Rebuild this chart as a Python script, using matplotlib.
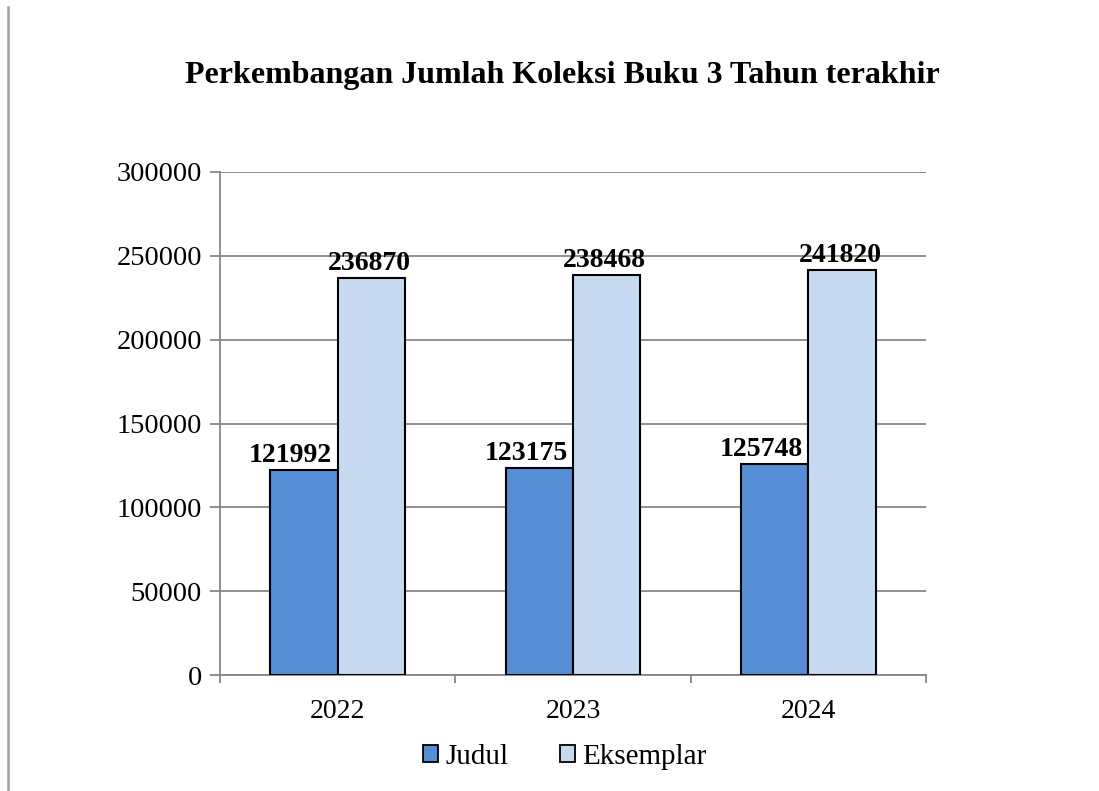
import numpy as np
import matplotlib
matplotlib.use("Agg")
import matplotlib.pyplot as plt
from matplotlib.lines import Line2D

# Data
years = ["2022", "2023", "2024"]
judul = [121992, 123175, 125748]
eksemplar = [236870, 238468, 241820]
series_names = ["Judul", "Eksemplar"]

plt.rcParams['font.family'] = ['Liberation Serif', 'DejaVu Serif']

c_judul = "#558ED5"
c_eks = "#C6D9F1"
grid_c = "#878787"

fig = plt.figure(figsize=(10.99, 7.91), dpi=100)
ax = fig.add_axes([0.2002, 0.1466, 0.6424, 0.636])

x = np.arange(len(years))
w = 1 / 3.5

b1 = ax.bar(x - w / 2, judul, w, color=c_judul, edgecolor="black", linewidth=1.5, zorder=3)
b2 = ax.bar(x + w / 2, eksemplar, w, color=c_eks, edgecolor="black", linewidth=1.5, zorder=3)

# data labels (excel puts the Judul ones a bit to the left)
for bars, vals, dx in ((b1, judul, -13.5), (b2, eksemplar, -2)):
    for r, v in zip(bars, vals):
        ax.annotate(str(v), (r.get_x() + r.get_width() / 2, v), xytext=(dx, 2),
                    textcoords="offset pixels", ha="center", va="bottom",
                    fontsize=20, fontweight="bold", zorder=4)

ax.set_xlim(-0.5, len(years) - 0.5)
ax.set_ylim(0, 300000)
ax.set_yticks(np.arange(0, 300001, 50000))
ax.yaxis.grid(True, color=grid_c, linewidth=1.3, zorder=0)

ax.set_xticks(x)
ax.set_xticklabels(years)
ax.set_xticks(np.arange(-0.5, len(years), 1), minor=True)
ax.tick_params(axis="x", which="major", length=0, pad=17, labelsize=20)
ax.tick_params(axis="x", which="minor", length=6, width=1.3, color=grid_c, direction="out")
ax.tick_params(axis="y", length=7, width=1.3, color=grid_c, pad=6, labelsize=20.5)

for s in ("top", "right"):
    ax.spines[s].set_visible(False)
for s in ("left", "bottom"):
    ax.spines[s].set_color(grid_c)
    ax.spines[s].set_linewidth(1.3)

fig.text(0.512, 0.905, "Perkembangan Jumlah Koleksi Buku 3 Tahun terakhir",
         ha="center", va="center", fontsize=23, fontweight="bold")

handles = [plt.Rectangle((0, 0), 1, 1, facecolor=c, edgecolor="black", linewidth=1.3)
           for c in (c_judul, c_eks)]
fig.legend(handles, series_names, loc="center", bbox_to_anchor=(0.514, 0.043),
           ncol=2, frameon=False, fontsize=21, handlelength=0.52, handleheight=0.52,
           handletextpad=0.25, columnspacing=1.75)

# left page border line
fig.add_artist(Line2D([7.5 / 1099, 7.5 / 1099], [0, 1 - 7 / 791],
                      transform=fig.transFigure, color="#a0a0a0", linewidth=1.8))

fig.savefig("out.png", dpi=100)
